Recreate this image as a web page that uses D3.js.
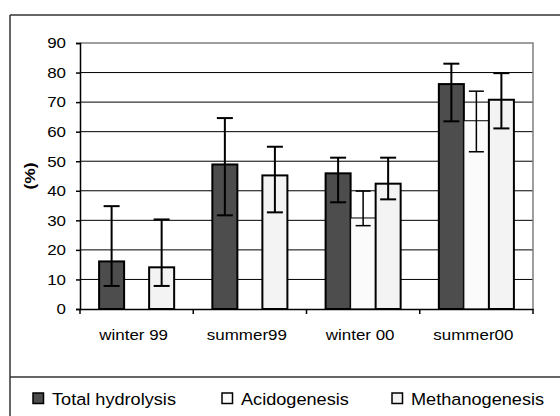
<!DOCTYPE html>
<html>
<head>
<meta charset="utf-8">
<script src="https://cdn.jsdelivr.net/npm/d3@7/dist/d3.min.js"></script>
<style>
  html, body { margin: 0; padding: 0; background: #fff; }
  svg { display: block; font-family: "Liberation Sans", Arial, sans-serif; }
</style>
</head>
<body>
<svg id="chart" width="560" height="416"></svg>
<script>
// ---- data ----
const categories = ["winter 99", "summer99", "winter 00", "summer00"];
const seriesNames = ["Total hydrolysis", "Acidogenesis", "Methanogenesis"];
const hydrolysis   = [16.1, 48.9, 45.9, 76.1];
const hydrolysisHi = [34.8, 64.6, 51.2, 83.0];
const hydrolysisLo = [7.8, 31.7, 36.1, 63.5];
const acidogenesis   = [null, null, 30.8, 63.7];
const acidogenesisHi = [null, null, 39.9, 73.7];
const acidogenesisLo = [null, null, 28.2, 53.2];
const methanogenesis   = [14.1, 45.2, 42.4, 70.8];
const methanogenesisHi = [30.3, 54.9, 51.2, 79.8];
const methanogenesisLo = [7.8, 32.7, 37.1, 61.1];
const yTicks = [0, 10, 20, 30, 40, 50, 60, 70, 80, 90];

const seriesValues = [hydrolysis, acidogenesis, methanogenesis];
const seriesHi = [hydrolysisHi, acidogenesisHi, methanogenesisHi];
const seriesLo = [hydrolysisLo, acidogenesisLo, methanogenesisLo];
const fills = ["#4d4d4d", "#fbfbfb", "#f3f3f3"];
const strokeW = [2, 1, 2];
const SX = 1.13; // horizontal text stretch of the original rendering

const svg = d3.select("#chart");

// outer chart frame (partially cropped)
svg.append("line").attr("x1", 10).attr("x2", 560).attr("y1", 15).attr("y2", 15)
  .attr("stroke", "#333").attr("stroke-width", 1.5);
svg.append("line").attr("x1", 10).attr("x2", 10).attr("y1", 15).attr("y2", 416)
  .attr("stroke", "#333").attr("stroke-width", 1.5);
svg.append("line").attr("x1", 10).attr("x2", 560).attr("y1", 377).attr("y2", 377)
  .attr("stroke", "#333").attr("stroke-width", 1.5);

const pLeft = 80, pRight = 533, pTop = 43, pBottom = 309;

const x0 = d3.scaleBand().domain(categories).range([pLeft, pRight]).padding(0);
const x1 = d3.scaleBand().domain(seriesNames).range([19.1, x0.bandwidth() - 19.1]).padding(0);
const y = d3.scaleLinear().domain([0, 90]).range([pBottom, pTop]);

// gridlines
svg.append("g").selectAll("line").data(yTicks.filter(t => t > 0 && t < 90)).join("line")
  .attr("x1", pLeft).attr("x2", pRight)
  .attr("y1", d => y(d)).attr("y2", d => y(d))
  .attr("stroke", "#000").attr("stroke-width", 1);

// plot area border (top & right)
svg.append("path")
  .attr("d", `M${pLeft},${y(90)}H${pRight}V${pBottom}`)
  .attr("fill", "none").attr("stroke", "#808080").attr("stroke-width", 1.5);

// bars
const groups = svg.append("g").selectAll("g").data(categories).join("g")
  .attr("transform", d => `translate(${x0(d)},0)`);

seriesNames.forEach((s, si) => {
  groups.filter((d, i) => seriesValues[si][i] != null)
    .append("rect")
    .attr("x", x1(s))
    .attr("width", x1.bandwidth())
    .attr("y", (d) => y(seriesValues[si][categories.indexOf(d)]))
    .attr("height", (d) => y(0) - y(seriesValues[si][categories.indexOf(d)]))
    .attr("fill", fills[si])
    .attr("stroke", "#000")
    .attr("stroke-width", strokeW[si]);
});

// error bars
seriesNames.forEach((s, si) => {
  groups.filter((d, i) => seriesValues[si][i] != null).each(function(d) {
    const i = categories.indexOf(d);
    const cx = x1(s) + x1.bandwidth() / 2;
    const g = d3.select(this).append("g")
      .attr("stroke", "#000").attr("stroke-width", si === 1 ? 1.5 : 2);
    g.append("line").attr("x1", cx).attr("x2", cx)
      .attr("y1", y(seriesLo[si][i])).attr("y2", y(seriesHi[si][i]));
    const hw = si === 1 ? 7.5 : 8;
    [seriesLo[si][i], seriesHi[si][i]].forEach(v => {
      g.append("line").attr("x1", cx - hw).attr("x2", cx + hw)
        .attr("y1", y(v)).attr("y2", y(v));
    });
  });
});

// y axis
const yAxis = d3.axisLeft(y).tickValues(yTicks).tickSize(4).tickPadding(10);
const ya = svg.append("g").attr("transform", `translate(${pLeft},0)`).call(yAxis);
ya.select(".domain").attr("stroke", "#000").attr("stroke-width", 1.5);
ya.selectAll(".tick line").attr("stroke", "#000").attr("stroke-width", 1.5);
ya.selectAll(".tick text").attr("font-size", 15).attr("fill", "#000")
  .attr("font-family", "Liberation Sans, Arial, sans-serif")
  .attr("x", -14 / SX).attr("transform", `scale(${SX},1)`);

// x axis
const xAxis = d3.axisBottom(x0).tickSize(0).tickPadding(20);
const xa = svg.append("g").attr("transform", `translate(0,${pBottom})`).call(xAxis);
xa.select(".domain").attr("stroke", "#000").attr("stroke-width", 1.5);
xa.selectAll(".tick text").attr("font-size", 15).attr("fill", "#000")
  .attr("font-family", "Liberation Sans, Arial, sans-serif")
  .attr("transform", `translate(-3,0) scale(${SX},1)`);
// category separator ticks
svg.append("g").selectAll("line")
  .data(categories.map(c => x0(c)).concat([pRight]))
  .join("line")
  .attr("x1", d => d).attr("x2", d => d)
  .attr("y1", pBottom).attr("y2", pBottom + 5)
  .attr("stroke", "#000").attr("stroke-width", 1.5);

// y title
svg.append("text")
  .attr("transform", `translate(34.5,${(pTop + pBottom) / 2}) rotate(-90) scale(${SX},1)`)
  .attr("text-anchor", "middle")
  .attr("font-size", 15.5).attr("font-weight", "bold")
  .text("(%)");

// legend
const legendX = [33, 222, 392];
const lg = svg.append("g").selectAll("g").data(seriesNames).join("g")
  .attr("transform", (d, i) => `translate(${legendX[i]},393)`);
lg.append("rect").attr("width", 10.5).attr("height", 10.5)
  .attr("fill", (d, i) => fills[i]).attr("stroke", "#000").attr("stroke-width", 1.5);
lg.append("text").attr("x", 19 / 1.1).attr("y", 11.5)
  .attr("transform", "scale(1.1,1)")
  .attr("font-size", 16.5).text(d => d);
</script>
</body>
</html>
